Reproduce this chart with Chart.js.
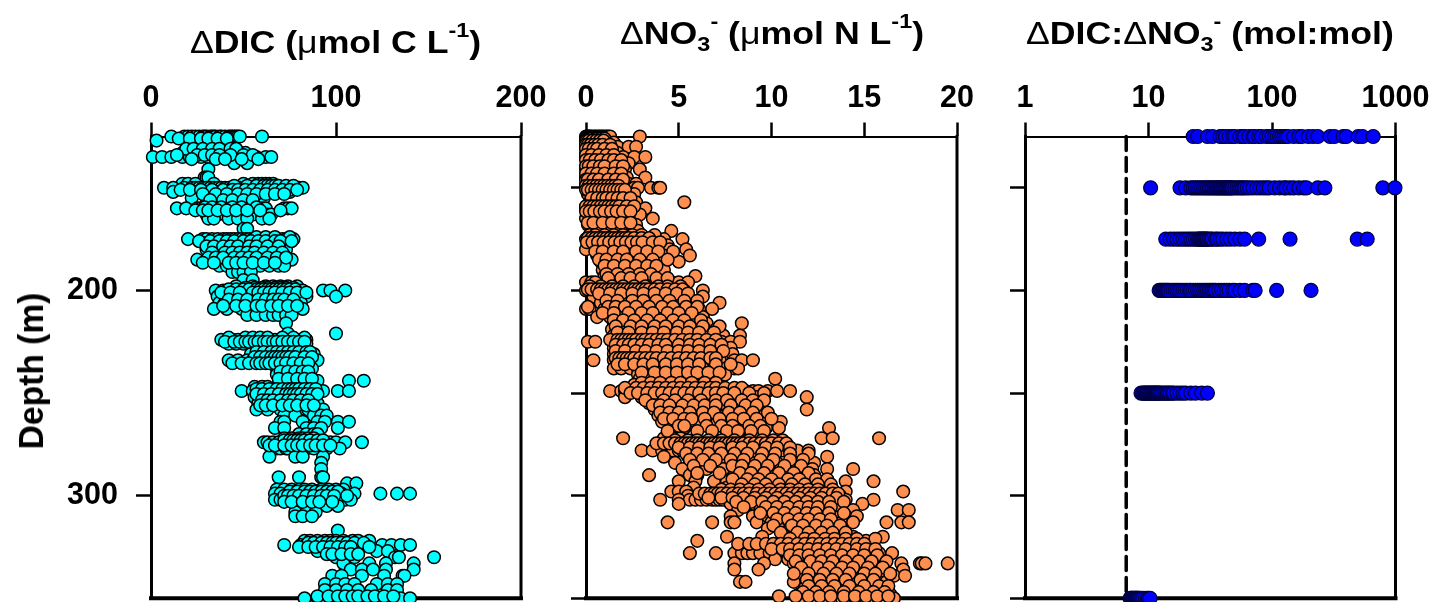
<!DOCTYPE html>
<html>
<head>
<meta charset="utf-8">
<title>DIC and nitrate anomalies with depth</title>
<script src="https://cdn.jsdelivr.net/npm/chart.js@4/dist/chart.umd.js"></script>
<style>
    html, body { margin: 0; padding: 0; background: #fff; overflow: hidden; }
    body { width: 1434px; height: 602px; position: relative; font-family: "Liberation Sans", Arial, sans-serif; }
    canvas { position: absolute; top: 0; }
    .heading { position: absolute; white-space: nowrap; font-weight: bold; font-size: 32px; line-height: 36px; color: #000; transform: scaleX(1.115); transform-origin: left center; }
    .heading sup, .heading sub { font-size: 21px; line-height: 0; }
    .heading sup { position: relative; top: -4px; }
    .thin { font-weight: normal; }
    #depthLabel { left: 31px; top: 371px; transform: translate(-50%, -50%) rotate(-90deg) scale(1.05, 1.11); transform-origin: center; }
</style>
</head>
<body>
<canvas id="dicChart" width="560" height="602" style="left:0"></canvas>
<canvas id="no3Chart" width="445" height="602" style="left:545px"></canvas>
<canvas id="ratioChart" width="449" height="602" style="left:985px"></canvas>
<div class="heading" style="left:190px;top:24px"><span class="thin">Δ</span>DIC (<span class="thin">μ</span>mol C L<sup>-1</sup>)</div>
<div class="heading" style="left:620px;top:15px"><span class="thin">Δ</span>NO<sub>3</sub><sup>-</sup> (<span class="thin">μ</span>mol N L<sup>-1</sup>)</div>
<div class="heading" style="left:1026px;top:15px"><span class="thin">Δ</span>DIC:<span class="thin">Δ</span>NO<sub>3</sub><sup>-</sup> (mol:mol)</div>
<div class="heading" id="depthLabel">Depth (m)</div>

<script>
// Axis ticks
const depthTicksLabelled = [200, 300];
const depthTicksAll = [150, 200, 250, 300, 350];
const dicTicks = [0, 100, 200];
const no3Ticks = [0, 5, 10, 15, 20];
const ratioTicks = [1, 10, 100, 1000];

// Redfield ratio line
const redfieldRatio = 6.6;

// Delta DIC, one list of values per depth
const dicDepths = [125, 127, 129, 133, 135, 138, 141, 145, 148, 150, 152, 155, 158, 160, 163, 165, 170, 175, 177, 180, 183, 185, 188, 191, 195, 198, 200, 203, 206, 209, 212, 216, 221, 224, 226, 229, 231, 234, 238, 241, 244, 247, 249, 252, 255, 258, 261, 264, 267, 270, 272, 274, 277, 281, 284, 287, 291, 294, 297, 299, 302, 305, 308, 310, 317, 322, 324, 327, 330, 333, 336, 339, 343, 346, 350];
const dicValues = [
    [11, 18, 20, 22, 24, 26, 28, 29, 30, 32, 33, 34, 35, 37, 38, 40, 42, 43, 44, 45, 46, 47, 48, 60],
    [3, 34, 36],
    [20, 22, 29, 38, 39],
    [17, 20, 24, 27, 31, 35, 38, 41, 44, 48, 51],
    [1, 6, 11, 17, 21, 27, 31, 36, 42, 47, 52, 57, 62, 65],
    [45, 52],
    [31],
    [29, 30, 31],
    [17, 20, 24, 34, 50, 55, 58, 60, 62, 64, 66],
    [7, 12, 18, 22, 24, 26, 28, 30, 32, 34, 36, 38, 40, 42, 44, 46, 48, 50, 52, 54, 56, 58, 60, 62, 64, 66, 68, 70, 72, 74, 76, 80, 82],
    [12, 25, 30, 37, 42, 46, 50, 53, 56, 59, 62, 65, 70, 75],
    [22, 30, 34, 37, 48, 53, 58, 61],
    [45, 50],
    [14, 19, 25, 27, 29, 31, 33, 35, 37, 39, 41, 44, 47, 50, 53, 58, 60, 62, 72, 74, 76],
    [30, 33, 36, 40, 51, 55, 60, 63, 65],
    [31, 34, 42, 47, 52, 60, 64],
    [50, 52],
    [20, 28, 30, 33, 36, 39, 41, 43, 45, 47, 49, 51, 53, 55, 57, 60, 62, 64, 68, 71, 73, 75, 77],
    [29, 31, 35, 38, 42, 44, 48, 50, 52, 56, 58, 61, 66, 72, 74],
    [30, 32, 37, 41, 46, 50, 54, 58, 60, 62, 65, 68, 70, 73],
    [38, 42, 45, 55, 60, 64, 67, 69, 72],
    [25, 30, 33, 36, 40, 44, 48, 52, 56, 60, 64, 66, 70, 72, 74, 76],
    [37, 41, 44, 48, 52, 54, 59, 64, 69, 72],
    [44, 47, 50, 54],
    [50, 55],
    [46, 55, 62, 66, 70, 74, 79],
    [35, 39, 41, 44, 47, 49, 52, 54, 56, 58, 60, 62, 64, 66, 68, 70, 72, 74, 76, 78, 80, 82, 93, 97, 105],
    [36, 41, 45, 50, 53, 56, 60, 63, 66, 70, 74, 80, 84, 100],
    [37, 40, 44, 48, 52, 56, 60, 64, 68, 72, 76, 81],
    [34, 41, 49, 55, 62, 72, 77, 82],
    [52, 57, 62, 66, 69, 73, 76],
    [73],
    [74, 100],
    [38, 44, 47, 50, 52, 55, 57, 60, 62, 65, 67, 70, 73, 76, 79, 84],
    [42, 46, 50, 56, 60, 63, 66, 70, 74, 78, 82, 84],
    [55, 58, 60, 62, 65, 68, 71, 74, 78, 83],
    [54, 57, 60, 63, 66, 69, 72, 75, 78, 81, 88],
    [42, 47, 52, 55, 58, 61, 63, 65, 68, 71, 74, 78, 82, 86, 90],
    [68, 70, 73, 76, 80, 84, 87],
    [68, 72, 77, 80, 83],
    [72, 75, 78, 81, 84, 90, 107, 115],
    [56, 60, 63, 68, 71, 75, 78, 81, 85],
    [49, 55, 58, 60, 62, 64, 66, 68, 70, 72, 74, 76, 78, 80, 82, 84, 87, 93, 101, 107],
    [56, 60, 63, 65, 67, 70, 74, 78, 82, 85, 88],
    [58, 61, 64, 68, 72, 76, 79, 83, 86, 90],
    [57, 63, 70, 73, 80, 85, 90, 93],
    [72, 78, 88, 92, 95],
    [70, 72, 82, 90, 94, 101, 107],
    [67, 72, 84, 88, 92, 101],
    [80, 84, 88, 90],
    [72, 76, 80, 82, 85, 88],
    [61, 63, 66, 69, 72, 75, 78, 80, 82, 85, 88, 90, 94, 97, 100, 105, 114],
    [68, 70, 73, 74, 78, 84, 88, 95, 102],
    [64, 78, 82, 93],
    [92],
    [92],
    [69, 80, 92, 93],
    [106, 111],
    [68, 72, 76, 80, 83, 87, 92, 96, 100, 104],
    [67, 70, 75, 78, 82, 85, 88, 90, 94, 98, 103, 110, 124, 133, 140],
    [67, 70, 78, 82, 86, 92, 100, 105, 108],
    [79, 84, 88, 95, 101],
    [78, 84, 89],
    [78, 82, 87],
    [101],
    [83, 86, 90, 94, 97, 100, 104, 109, 112, 118],
    [72, 81, 84, 88, 90, 94, 97, 102, 106, 112, 116, 125, 130, 135, 140],
    [90, 96, 100, 106, 122, 128],
    [100, 107, 110, 132, 134, 153],
    [104, 118, 127, 142],
    [108, 114, 120, 127, 142],
    [98, 103, 114, 126, 136, 137],
    [94, 100, 105, 110, 122, 128, 133],
    [94, 100, 106, 112, 119, 128, 133],
    [83, 90, 95, 100, 104, 107, 110, 113, 115, 119, 123, 125, 128, 130, 133, 135, 140]
];

// Delta DIC, points between the main sampling depths
const dicDepthsB = [126, 131, 134, 136, 149, 151, 153, 156, 159.5, 161, 174, 176, 178.5, 181.5, 184, 186.5, 198.7, 199.5, 201, 204.5, 207.5, 223, 225, 230, 232.5, 235.5, 239.5, 243, 248, 250.5, 253.5, 256, 273, 275.5, 298, 300, 303, 323, 325, 328.5, 349];
const dicValuesB = [
    [15, 21, 27, 31, 36, 41],
    [19, 23, 28, 33, 37, 43, 46],
    [14, 25, 29, 33, 37, 43, 50, 55],
    [22, 35, 40, 49, 58],
    [45, 52, 57, 61, 63, 65, 67, 69, 73, 77],
    [16, 21, 27, 33, 39, 44, 47, 51, 55, 59, 63, 67, 71, 75, 79],
    [28, 35, 41, 47, 52, 57, 62, 67, 72],
    [32, 39, 44, 50, 55],
    [29, 33, 38, 44, 49, 57],
    [24, 28, 31, 36, 41, 46, 52, 59, 70],
    [57, 62, 67, 75],
    [26, 32, 37, 41, 45, 50, 54, 58, 62, 67, 70, 76],
    [30, 34, 39, 43, 47, 53, 57, 63, 69],
    [33, 40, 44, 48, 52, 56, 61, 66, 71],
    [31, 35, 39, 45, 49, 53, 57, 63, 68, 73],
    [28, 34, 42, 46, 50, 55, 61, 67],
    [51, 56, 60, 63, 67, 70, 73, 77],
    [42, 46, 50, 53, 57, 59, 61, 63, 65, 67, 69, 71, 73, 75, 78],
    [38, 43, 48, 55, 58, 61, 64, 67, 71, 75, 79, 84],
    [42, 47, 52, 58, 62, 66, 69, 72, 77],
    [39, 46, 51, 57, 60, 65, 69, 74, 79],
    [42, 51, 55, 59, 63, 71, 77, 83],
    [40, 45, 48, 51, 53, 56, 58, 61, 63, 66, 68, 71, 74, 77, 80, 83],
    [57, 61, 65, 68, 71, 74, 77, 80, 84, 86],
    [56, 59, 62, 65, 67, 69, 71, 73, 75, 78, 83, 87],
    [44, 49, 53, 57, 59, 62, 64, 67, 70, 73, 77, 81, 85],
    [70, 74, 78, 82, 85],
    [69, 74, 79, 83, 87],
    [57, 60, 64, 68, 71, 74, 76, 78, 80, 83, 86, 89],
    [57, 61, 65, 69, 73, 75, 77, 79, 81, 84, 87, 90],
    [60, 63, 66, 70, 74, 77, 81, 85],
    [59, 62, 66, 71, 75, 79, 84, 88],
    [72, 75, 77, 79, 81, 83, 86, 90, 93],
    [64, 67, 72, 76, 79, 82, 86, 89, 93, 97],
    [75, 79, 83, 86, 89, 92, 95, 98, 101],
    [72, 74, 77, 80, 84, 88, 92, 95, 99, 106],
    [72, 76, 82, 87, 91, 98],
    [85, 88, 92, 95, 98, 100, 103, 106, 110, 115],
    [80, 85, 89, 93, 97, 101, 105, 108, 118],
    [95, 98, 103, 108, 112],
    [90, 96, 101, 105, 109, 112, 117, 121, 126, 131]
];

// Delta NO3, one list of values per depth
const no3Depths = [125, 128, 130, 133, 135, 138, 141, 145, 148, 150, 153, 157, 160, 163, 165, 168, 171, 175, 178, 180, 183, 186, 190, 193, 196, 200, 203, 206, 209, 213, 216, 219, 222, 225, 228, 231, 234, 238, 241, 243, 246, 249, 252, 255, 258, 261, 264, 267, 270, 272, 275, 278, 281, 284, 287, 290, 293, 296, 298, 300, 302, 304, 307, 310, 313, 316, 320, 322, 325, 328, 331, 333, 336, 339, 342, 345, 348, 350];
const no3Values = [
    [0, 0.05, 0.1, 0.15, 0.2, 0.3, 0.4, 0.5, 0.6, 0.7, 0.8, 0.9, 1, 1.1, 1.2, 1.3, 2.9],
    [0, 0.1, 0.2, 0.4, 0.8, 1.2, 1.5],
    [0, 0.1, 0.2, 0.3, 0.5, 0.7, 1.1, 1.7, 2.3, 2.7],
    [0, 0.2, 0.5, 0.8, 1.3, 1.7],
    [0, 0.1, 0.2, 0.4, 0.6, 0.9, 1.2, 1.6, 2, 2.6, 3.2],
    [0.1, 0.3, 0.6, 0.8, 1.1, 1.4, 1.9, 2.3],
    [0, 0.2, 0.5, 0.9, 1.3, 1.7, 2.1, 2.9],
    [0, 0.2, 0.5, 0.8, 1.1, 1.4, 1.7, 2.2, 3.2],
    [0, 0.4, 1, 1.5, 1.9, 2.3, 2.7],
    [0, 0.1, 0.2, 0.3, 0.4, 0.5, 0.6, 0.7, 0.8, 0.9, 1, 1.1, 1.2, 1.3, 1.4, 1.5, 1.6, 1.7, 1.8, 2, 2.6, 2.8, 3.5, 3.9, 4],
    [0.1, 0.5, 1, 1.5, 2, 2.6],
    [0.2, 0.8, 1.3, 1.8, 2.7, 5.3],
    [0, 0.1, 0.3, 0.5, 0.7, 0.9, 1.1, 1.3, 1.5, 1.7, 2, 3.2],
    [0.1, 0.6, 1, 1.5, 1.9, 2.3, 2.9],
    [0, 0.2, 0.7, 1.2, 1.6, 2, 2.3, 3.6],
    [0.1, 0.5, 1.2, 1.7, 2.1, 2.7],
    [0.3, 0.8, 1.4, 1.9, 2.8, 4.6],
    [0, 0.2, 0.4, 0.6, 0.8, 1, 1.2, 1.4, 1.6, 1.8, 2, 2.2, 2.4, 2.8, 3.2, 3.5, 3.9, 4.2, 5.2],
    [0.1, 0.6, 1, 1.4, 1.9, 2.3, 2.9, 3.4, 4.4],
    [0, 0.7, 1.3, 1.8, 2.4, 3.1, 3.7, 4.5, 5.4],
    [0.6, 1.1, 1.6, 2.1, 2.6, 3.2, 4.2, 5.6],
    [0.8, 1.3, 1.9, 2.4, 3.4, 4, 5],
    [0.9, 1.4, 2, 2.5, 3, 3.5, 3.9, 4.2],
    [1, 1.6, 2.2, 3.1, 5.9],
    [0, 0.3, 0.5, 1.2, 1.9, 2.5, 3, 3.6, 4.2, 4.6, 5, 5.5],
    [0, 0.2, 0.5, 0.7, 0.9, 1.1, 1.3, 1.5, 1.7, 1.9, 2.1, 2.3, 2.5, 2.7, 2.9, 3.1, 3.3, 3.6, 3.9, 4.2, 4.6, 5, 5.3, 6.3],
    [0.4, 1, 1.6, 2.2, 2.8, 3.4, 4, 4.6, 5.2, 6.3],
    [0.8, 1.5, 2.2, 2.9, 3.4, 4, 4.6, 5.2, 6, 7.2],
    [0, 0.2, 1, 1.4, 1.8, 2.4, 3, 3.7, 4.3, 5, 5.6, 6.1, 6.8],
    [0.6, 1.3, 2, 2.6, 3.2, 3.9, 4.5, 5.1, 5.8, 6.3],
    [1.5, 2.2, 2.8, 3.5, 4.1, 4.7, 5.4, 6.5, 8.4],
    [1.4, 1.8, 2.6, 3.2, 3.8, 4.5, 5.1, 5.8, 6.4, 7],
    [1.5, 2.1, 2.7, 3.4, 4, 4.6, 5.2, 5.8, 6.6, 7.4, 8.3],
    [0.1, 0.5, 1.6, 1.8, 2, 2.2, 2.4, 2.6, 2.8, 3, 3.3, 3.6, 3.9, 4.2, 4.6, 5, 5.4, 5.8, 6.2, 6.8, 7.3, 7.8, 8.3],
    [1.5, 2, 2.5, 3.1, 3.6, 4.2, 4.8, 5.3, 5.9, 6.5, 7, 7.8],
    [1.5, 1.9, 2.4, 3, 3.5, 4, 4.6, 5.2, 5.8, 6.4, 7.1, 7.9],
    [0.4, 1.5, 1.7, 1.9, 2.1, 2.3, 2.5, 2.7, 3, 3.3, 3.6, 4, 4.4, 4.8, 5.2, 5.6, 6, 6.4, 6.9, 7.2, 8, 8.4, 9],
    [1.5, 1.9, 2.4, 2.8, 3.3, 4, 4.6, 5.2, 5.9, 6.3, 7.5, 8, 8.2],
    [2.8, 3.4, 4, 4.6, 5.2, 5.8, 6.3, 6.9, 7.5],
    [2.9, 3.5, 4.2, 4.8, 5.5, 6.1, 6.7, 10.2],
    [2.6, 3.1, 3.6, 4, 4.5, 5, 5.6, 6.2, 6.9],
    [1.3, 1.9, 2.1, 2.4, 2.9, 3.2, 3.4, 3.6, 3.8, 4, 4.2, 4.4, 4.6, 4.8, 5, 5.2, 5.4, 5.6, 5.9, 6.2, 6.5, 6.8, 7.1, 7.5, 7.8, 8.2, 8.6, 9, 9.3, 9.8, 10.3, 11],
    [2.1, 3, 3.6, 4.2, 4.8, 5.3, 6, 6.6, 7.2, 8.6, 9.2, 11.9],
    [3.4, 3.8, 4.3, 4.9, 5.5, 6.2, 6.8, 7.4, 8],
    [3.7, 4.2, 4.6, 5, 5.5, 6, 6.5, 8.2, 8.8, 9.4, 11.9],
    [3.9, 4.4, 4.9, 5.4, 5.8, 7.5, 8, 8.5, 9, 9.6],
    [4.1, 5.9, 7.1, 7.6, 8.3, 8.9, 9.4, 10.5],
    [4.9, 5.3, 7.5, 8.1, 8.6, 9.1, 9.7, 10.4, 13.1],
    [4.4, 7.8, 8.4, 8.9, 9.4],
    [2, 4.2, 4.7, 5.1, 8.3, 8.8, 9.3, 12.7, 13.3, 15.8],
    [4.5, 5.3, 5.7, 6.2, 6.8, 7.4, 8, 8.6, 9.2, 9.8, 10.2, 10.8],
    [3, 3.6, 4.1, 4.4, 4.7, 5, 5.2, 5.4, 5.6, 5.8, 6, 6.2, 6.4, 6.6, 6.8, 7, 7.2, 7.4, 7.6, 7.8, 8, 8.2, 8.4, 8.7, 9, 9.3, 9.6, 9.9, 10.2, 10.6, 11, 11.4, 12],
    [4.2, 5.5, 6, 6.5, 7, 7.4, 7.8, 8.2, 8.6, 9, 9.5, 10, 13],
    [4.8, 5.6, 6.2, 6.8, 7.5, 8.2, 8.9, 9.6, 10.3, 11.2, 11.6, 12.3],
    [5.2, 5.8, 6.5, 7.4, 8, 8.7, 9.5, 10.5, 11, 12.2, 13, 14.4],
    [3.4, 5.6, 6, 8, 8.6, 9.2, 10, 10.8, 11.4, 12.3],
    [5, 5.9, 6.9, 7.6, 8.2, 9, 9.8, 10.8, 11.4, 14, 15.5],
    [5.8, 7.6, 8.1, 8.6, 9.3, 10, 10.8, 11.8, 12.6],
    [4.6, 5, 5.4, 8.3, 8.8, 9.4, 10, 10.7, 11.3, 12, 13.2, 14, 17.1],
    [5.5, 6.5, 7, 8.6, 9.2, 9.9, 10.5, 11, 11.6, 12.1, 12.6, 13, 13.7],
    [4, 5, 5.6, 5.9, 6.2, 6.5, 6.8, 7, 7.2, 7.4, 7.7, 8, 8.3, 8.6, 9, 9.4, 9.7, 10, 10.3, 10.6, 10.9, 11.2, 11.5, 11.8, 12.1, 12.4, 12.7, 13, 13.4, 14, 15.5],
    [5, 7.8, 8.4, 9, 9.6, 10.2, 10.8, 11.4, 12, 12.6, 13.2, 14.9],
    [8.2, 9.4, 10, 10.6, 11.2, 11.7, 12.3, 12.9, 13.6, 14.4, 16.8, 17.4],
    [7.8, 9, 9.8, 10.4, 11, 11.5, 12.1, 12.6, 13.3, 14, 14.6],
    [4.4, 6.8, 7.8, 8, 9.2, 10, 10.6, 11.2, 11.8, 12.3, 13, 13.8, 14.4, 16.2, 17, 17.4],
    [9.8, 10.4, 11, 11.4, 12.2, 13, 13.7],
    [7.6, 9.5, 10.8, 11.2, 11.9, 12.6, 14.4, 16],
    [6, 10.8, 11.6, 12.6, 13, 13.5, 15.1],
    [10, 11.2, 11.8, 12.4, 13, 13.6, 14.2, 14.8],
    [5.6, 7, 8, 8.4, 8.7, 9, 9.4, 9.9, 10.3, 10.8, 11.2, 11.6, 12, 12.4, 12.8, 13.2, 13.6, 14, 14.4, 14.8, 15.2, 15.8, 16.5],
    [10.2, 10.9, 11.6, 12.2, 12.9, 13.6, 14.2, 15, 15.7],
    [8, 9.6, 11.2, 11.8, 12.6, 13.3, 14, 14.6, 15.4, 16.1, 17, 18, 18.1, 18.3, 19.5],
    [8, 9.3, 11.4, 12, 12.8, 13.4, 14, 15, 15.8, 17.1],
    [11.5, 12.2, 12.9, 13.6, 14.3, 15, 15.8, 16.6, 17.2],
    [8.3, 8.6, 11.2, 12, 12.7, 13.4, 14.2, 15, 15.8, 16.2],
    [11.8, 12.5, 13.2, 13.9, 14.6, 15.4, 16],
    [11.5, 12.3, 13, 13.8, 14.6, 15.3, 16, 16.4],
    [11.6, 12.2, 13, 13.8, 14.5, 15.2, 16.6],
    [8, 9.6, 10.1, 10.6, 11, 11.4, 11.8, 12.2, 12.5, 12.8, 13.1, 13.4, 13.7, 14, 14.3, 14.6, 15, 15.4, 15.8, 16.2, 16.6, 17]
];

// Delta NO3, points between the main sampling depths
const no3DepthsB = [126, 127, 129, 131, 134, 136.5, 139.5, 143, 146, 149, 151, 155, 159, 161.5, 167, 173, 174.5, 176.5, 181, 185, 188, 192, 194, 198, 199.5, 201.5, 205, 208, 211, 214.5, 217.5, 220.5, 224, 226.5, 229.5, 233, 236, 240, 245, 247.5, 250, 253.5, 256, 259.5, 262.5, 266, 268.5, 273, 274.5, 276.5, 279.5, 282.5, 285.5, 289, 292, 294.5, 297, 299, 301, 303, 305.5, 308.5, 311.5, 314.5, 318, 321, 323.5, 326, 329, 332, 335, 338, 341, 344, 347, 349];
const no3ValuesB = [
    [0, 0.1, 0.2, 0.3, 0.5, 0.6, 0.8, 1],
    [0, 0.05, 0.15, 0.35, 0.55, 0.75, 0.95],
    [0, 0.1, 0.25, 0.45, 0.65, 0.9, 1.3],
    [0, 0.15, 0.4, 0.6, 1, 1.4],
    [0, 0.3, 0.7, 1.1, 1.5],
    [0, 0.2, 0.5, 0.8, 1.2, 1.5, 1.9],
    [0, 0.15, 0.4, 0.75, 1, 1.6, 2],
    [0, 0.3, 0.6, 1, 1.5, 1.9],
    [0, 0.1, 0.4, 0.7, 1.2, 1.6, 2],
    [0, 0.15, 0.35, 0.55, 0.75, 0.95, 1.15, 1.35, 1.55, 1.75],
    [0, 0.1, 0.3, 0.5, 0.7, 0.9, 1.1, 1.3, 1.5, 1.7, 1.9, 2.1],
    [0.3, 0.6, 0.9, 1.1, 1.4, 1.7, 2, 2.4],
    [0, 0.2, 0.4, 0.6, 0.8, 1, 1.2, 1.4, 1.6, 1.8, 2.2, 2.6],
    [0, 0.2, 0.45, 0.75, 1, 1.35, 1.65, 2, 2.4],
    [0.1, 0.4, 0.9, 1.4, 1.9, 2.4],
    [0.2, 0.5, 1, 1.5, 2, 2.5, 3, 3.7],
    [0.1, 0.3, 0.5, 0.7, 0.9, 1.1, 1.3, 1.5, 1.7, 1.9, 2.1, 2.3, 2.6, 3, 3.4],
    [0.05, 0.35, 0.65, 0.95, 1.25, 1.55, 1.85, 2.15, 2.45, 2.75, 3.05, 3.6, 4],
    [0.5, 0.9, 1.5, 2, 2.7, 3.3, 3.9, 4.7],
    [0.7, 1.1, 1.7, 2.2, 2.9, 3.6, 4.4],
    [1, 1.5, 2.1, 2.7, 3.3, 3.8],
    [1.1, 1.7, 2.3, 2.9, 3.5],
    [1.2, 1.9, 2.4, 3, 3.8, 4.4],
    [0.2, 0.8, 1.4, 2, 2.6, 3.2, 3.9, 4.4, 5.1],
    [0.1, 0.3, 0.6, 0.8, 1, 1.2, 1.4, 1.6, 1.8, 2, 2.2, 2.4, 2.6, 2.8, 3, 3.2, 3.4, 3.7, 4, 4.4, 4.8, 5.2],
    [0.7, 1.3, 1.9, 2.5, 3.1, 3.7, 4.3, 4.9, 5.5],
    [1.1, 1.7, 2.5, 3.1, 3.8, 4.5, 5.3, 6],
    [0.1, 1.2, 1.6, 2.1, 2.7, 3.4, 4.1, 4.7, 5.4, 6],
    [0.9, 1.5, 2.3, 3, 3.6, 4.4, 5, 5.7],
    [1.5, 2, 2.6, 3.3, 4, 4.7, 5.3, 6.2],
    [1.6, 2.4, 3, 3.7, 4.3, 5, 5.6, 6.3, 7.2],
    [1.7, 2.3, 3, 3.6, 4.2, 4.9, 5.5, 6.1, 6.9],
    [1.3, 1.7, 1.9, 2.1, 2.3, 2.5, 2.7, 3, 3.2, 3.5, 3.8, 4.1, 4.4, 4.8, 5.2, 5.6, 6, 6.5, 7],
    [1.6, 2, 2.3, 2.6, 3, 3.4, 3.9, 4.3, 5, 5.6, 6.1, 6.7, 7.3],
    [1.6, 2.1, 2.7, 3.2, 3.8, 4.4, 5, 5.5, 6.1, 6.7, 7.4],
    [1.6, 1.8, 2, 2.2, 2.4, 2.6, 2.9, 3.2, 3.5, 3.8, 4.2, 4.6, 5, 5.4, 5.8, 6.2, 6.7, 7],
    [1.7, 2.1, 2.6, 3.1, 3.6, 4.3, 4.9, 5.5, 6.1, 7, 7.8],
    [3, 3.7, 4.3, 4.9, 5.5, 6, 6.6, 7.2],
    [3, 3.5, 4, 4.6, 5.1, 5.7, 6.4, 7],
    [2.1, 2.7, 3.1, 3.5, 3.9, 4.3, 4.7, 5.1, 5.5, 5.9, 6.3, 6.7, 7, 7.5, 8, 8.4],
    [2.4, 2.8, 3.3, 3.7, 4.1, 4.5, 4.9, 5.3, 5.7, 6.1, 6.6, 7, 7.4, 8, 8.8, 9.6],
    [3.2, 4.2, 4.8, 5.5, 6.2, 7, 7.6, 8.4, 9, 9.6],
    [3.6, 4, 4.5, 5.2, 5.8, 6.4, 7, 7.8, 8.6, 9.2],
    [4, 4.5, 5, 5.6, 6.3, 6.9, 7.7, 8.3, 9, 9.8],
    [4.2, 4.7, 5.3, 5.7, 6.4, 7.2, 7.9, 8.5, 9.2, 10],
    [5, 5.3, 6.5, 7.3, 7.9, 8.8, 9.4],
    [4.4, 6, 6.8, 7.6, 8.2, 8.9, 9.6],
    [4.8, 5.5, 6, 6.6, 7.3, 8, 8.8, 9.5, 10.1, 10.6],
    [3.8, 4.2, 4.5, 4.8, 5.1, 5.3, 5.5, 5.7, 5.9, 6.1, 6.3, 6.5, 6.7, 6.9, 7.1, 7.3, 7.5, 7.7, 7.9, 8.1, 8.3, 8.5, 8.8, 9.1, 9.4, 9.7, 10, 10.4, 10.8],
    [5, 5.6, 6.1, 6.7, 7.2, 7.9, 8.4, 9, 9.7, 10.3, 11],
    [5.4, 6, 6.6, 7.3, 8, 8.7, 9.5, 10.2, 11, 12],
    [5.6, 6.3, 7, 7.8, 8.5, 9.4, 10.1, 11, 11.7],
    [5.8, 6.7, 7.9, 8.4, 9.1, 9.8, 10.7, 11.6],
    [6, 7.2, 8.3, 8.9, 9.6, 10.4, 11.2, 12],
    [7.9, 8.7, 9.3, 10, 10.9, 11.5, 12.4, 13],
    [8.4, 9.1, 9.7, 10.4, 11.1, 11.8, 12.5, 13.2],
    [7.3, 7.8, 8.3, 8.8, 9.3, 9.9, 10.5, 11, 11.5, 12, 12.5, 13.3],
    [6.1, 6.4, 6.7, 6.9, 7.1, 7.3, 7.6, 7.9, 8.2, 8.5, 8.8, 9.2, 9.6, 9.9, 10.2, 10.5, 10.8, 11.1, 11.4, 11.7, 12, 12.3, 12.6, 12.9, 13.3, 13.6],
    [6.6, 7.3, 7.9, 8.5, 9.1, 9.7, 10.3, 10.9, 11.5, 12.1, 12.7, 13.5],
    [8.1, 8.9, 9.5, 10.1, 10.7, 11.3, 11.9, 12.5, 13.1, 13.9],
    [8.5, 9.7, 10.3, 10.9, 11.5, 12, 12.5, 13.2],
    [9.4, 10.1, 10.7, 11.3, 11.9, 12.4, 13.1, 13.9],
    [10.3, 10.9, 11.5, 12, 12.6, 13.2],
    [10.1, 11.1, 11.7, 12.4, 13, 13.7],
    [10.5, 11.4, 12, 12.7, 13.3, 14],
    [11, 11.8, 12.3, 12.9, 13.4, 14, 14.6, 15.6],
    [8.2, 8.8, 9.2, 9.7, 10.1, 10.5, 10.9, 11.4, 11.8, 12.2, 12.6, 13, 13.4, 13.8, 14.2, 14.6, 15],
    [10, 10.6, 11, 11.5, 12, 12.5, 13, 13.5, 14, 14.6, 15.1, 15.6],
    [11, 11.5, 12, 12.6, 13.2, 13.8, 14.4, 15, 15.7],
    [11.3, 12.1, 12.7, 13.3, 14, 14.7, 15.4, 16.2],
    [11.6, 12.5, 13.1, 13.8, 14.4, 15.2, 16],
    [11.2, 12, 12.8, 13.5, 14.2, 15, 15.6, 16.4],
    [11.9, 12.6, 13.3, 14, 14.8, 15.5],
    [12, 12.7, 13.4, 14.2, 15, 15.8, 16.3],
    [11.7, 12.4, 13.1, 13.9, 14.7, 15.5, 16.1],
    [10.4, 11.3, 12, 12.6, 13.2, 13.9, 14.5, 15.1, 15.7, 16.3]
];

// Delta DIC : Delta NO3 ratio, one list of values per sampled depth
const ratioDepths = [125, 150, 175, 200, 250, 350];
const ratioValues = [
    [23, 25, 30, 33, 38, 40, 42, 45, 48, 50, 55, 58, 60, 65, 70, 72, 78, 82, 90, 95, 100, 105, 110, 115, 120, 125, 130, 135, 150, 165, 175, 197, 215, 235, 295, 320, 377, 400, 499, 540, 660],
    [10.4, 18, 20, 22, 23, 24, 25, 26, 27, 28, 29, 30, 31, 32, 33, 34, 35, 36, 37, 38, 39, 40, 41, 42, 43, 44, 45, 46, 47, 48, 50, 52, 54, 56, 58, 60, 63, 66, 70, 75, 80, 85, 90, 95, 105, 115, 125, 130, 140, 150, 165, 180, 190, 235, 268, 790, 990],
    [13.8, 15, 16, 17, 18, 19, 20, 21, 22, 23, 24, 25, 25.5, 26, 26.5, 27, 27.5, 28, 28.5, 29, 29.5, 30, 31, 32, 33, 35, 36, 38, 40, 43, 46, 50, 55, 60, 78, 140, 490, 590],
    [12.2, 12.5, 12.8, 13.1, 13.4, 13.7, 14, 14.3, 14.6, 15.2, 15.8, 16.4, 17, 17.6, 18.2, 19, 19.8, 20.6, 21.5, 22, 23, 24, 25, 26, 27, 28, 29, 30, 31, 32, 33, 34, 35, 37, 39, 41, 43, 45, 48, 50, 55, 60, 70, 73, 109, 207],
    [8.7, 9, 9.2, 9.4, 9.6, 9.8, 10, 10.2, 10.4, 10.6, 10.8, 11, 11.2, 11.4, 11.6, 11.8, 12, 12.3, 12.6, 13, 13.4, 13.8, 14.2, 14.6, 15, 15.6, 16, 17, 18, 19, 20, 22, 24, 27, 30],
    [7.1, 7.2, 7.3, 7.4, 7.5, 7.6, 7.7, 7.8, 7.9, 8, 8.1, 8.2, 8.3, 8.5, 8.7, 9, 9.4, 9.8, 10, 10.3]
];

// Turn a depth list and its value lists into scatter points
function toPoints(depths, values) {
    const points = [];
    depths.forEach((depth, i) => {
        values[i].forEach(value => points.push({ x: value, y: depth }));
    });
    return points;
}

// Frame of the plot, each side has its own weight in the original
const framePlugin = {
    id: 'frame',
    beforeDatasetsDraw(chart) {
        const { ctx, chartArea: a } = chart;
        ctx.save();
        ctx.strokeStyle = '#000';
        ctx.lineCap = 'square';
        ctx.lineWidth = 3;
        ctx.beginPath();
        ctx.moveTo(a.right, a.top);
        ctx.lineTo(a.right, a.bottom);
        ctx.stroke();
        ctx.lineWidth = 4;
        ctx.beginPath();
        ctx.moveTo(a.left, a.bottom);
        ctx.lineTo(a.right, a.bottom);
        ctx.stroke();
        ctx.restore();
    }
};

const tickFont = { family: '"Liberation Sans", Arial, sans-serif', size: 30.5, weight: 'bold' };

// All three panels share this setup, only the x axis and the points differ
function makePanel(canvasId, cfg) {
    new Chart(document.getElementById(canvasId), {
        type: 'scatter',
        data: { datasets: cfg.datasets },
        options: {
            responsive: false,
            animation: false,
            events: [],
            layout: { autoPadding: false, padding: { top: 0, left: 0, right: cfg.canvasWidth - cfg.right, bottom: 3.7 } },
            plugins: { legend: { display: false }, title: { display: false }, tooltip: { enabled: false } },
            scales: {
                x: {
                    type: cfg.xType,
                    position: 'top',
                    min: cfg.xTicks[0],
                    max: cfg.xTicks[cfg.xTicks.length - 1],
                    border: { display: true, color: '#000', width: 2 },
                    grid: { drawOnChartArea: false, drawTicks: true, tickLength: 14, tickColor: '#000', tickWidth: 2.5 },
                    ticks: { font: tickFont, color: '#000', padding: 6, autoSkip: false, maxRotation: 0, minRotation: 0, callback: v => String(v) },
                    afterBuildTicks: s => { s.ticks = cfg.xTicks.map(v => ({ value: v })); },
                    afterFit: s => { s.height = 136.5; s.paddingLeft = 0; s.paddingRight = 0; }
                },
                y: {
                    type: 'linear',
                    reverse: true,
                    min: 125,
                    max: 350,
                    border: { display: true, color: '#000', width: 3 },
                    grid: { drawOnChartArea: false, drawTicks: true, tickLength: 15, tickColor: '#000', tickWidth: 2.5 },
                    ticks: { display: cfg.yLabels, font: tickFont, color: '#000', padding: 18, autoSkip: false, callback: v => String(v) },
                    afterBuildTicks: s => { s.ticks = cfg.yTicks.map(v => ({ value: v })); },
                    afterFit: s => { s.width = cfg.left; s.paddingTop = 0; s.paddingBottom = 0; }
                }
            }
        },
        plugins: [framePlugin]
    });
}

const markerStyle = { pointRadius: 6.3, pointBorderWidth: 1.5, pointBorderColor: '#000', clip: false };

makePanel('dicChart', {
    canvasWidth: 560, left: 151, right: 521, xType: 'linear', xTicks: dicTicks, yTicks: depthTicksLabelled, yLabels: true,
    datasets: [{ label: 'DIC', data: toPoints(dicDepths, dicValues).concat(toPoints(dicDepthsB, dicValuesB)), pointBackgroundColor: '#00FFFF', ...markerStyle }]
});

makePanel('no3Chart', {
    canvasWidth: 445, left: 41, right: 412, xType: 'linear', xTicks: no3Ticks, yTicks: depthTicksAll, yLabels: false,
    datasets: [{ label: 'NO3', data: toPoints(no3Depths, no3Values).concat(toPoints(no3DepthsB, no3ValuesB)), pointBackgroundColor: '#FF8F4F', ...markerStyle }]
});

makePanel('ratioChart', {
    canvasWidth: 449, left: 40, right: 410.5, xType: 'logarithmic', xTicks: ratioTicks, yTicks: depthTicksAll, yLabels: false,
    datasets: [
        { label: 'Ratio', data: toPoints(ratioDepths, ratioValues), pointRadius: 7, pointBorderWidth: 1.2, pointBorderColor: '#000040', pointBackgroundColor: '#0000FF', clip: false },
        { label: 'Redfield', data: [{ x: redfieldRatio, y: 125 }, { x: redfieldRatio, y: 350 }], showLine: true, pointRadius: 0, borderColor: '#000', borderWidth: 3.5, borderDash: [14, 7], borderCapStyle: 'round', clip: false }
    ]
});
</script>
</body>
</html>
